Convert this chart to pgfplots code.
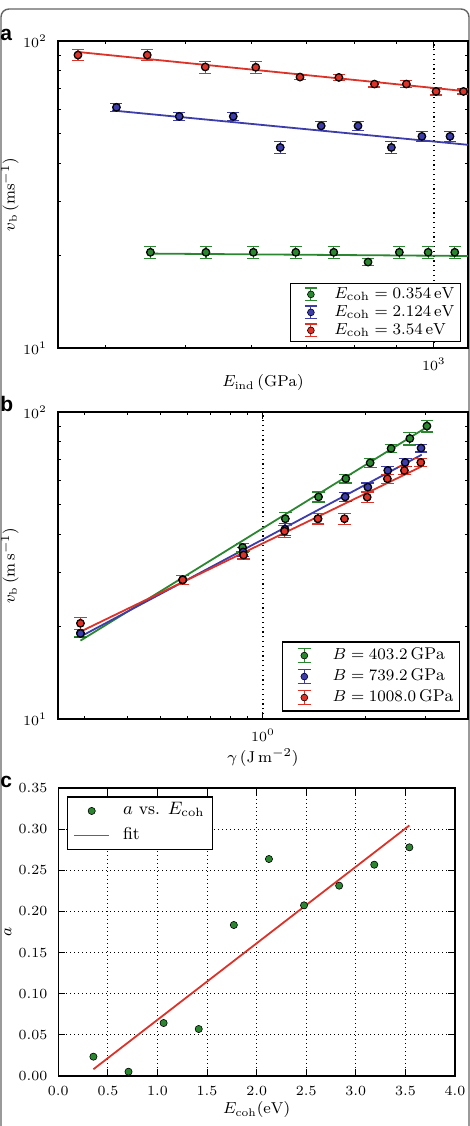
\documentclass[border=0pt]{standalone}
\usepackage{pgfplots}
\usepackage{pgfplotstable}
\pgfplotsset{compat=1.18}
\usepackage{fontspec}
\newfontfamily\panelfont{Liberation Sans}

\definecolor{cgreen}{RGB}{42,135,48}
\definecolor{cblue}{RGB}{60,60,170}
\definecolor{cred}{RGB}{220,50,40}
\definecolor{framegray}{RGB}{100,100,100}

% (a) break-up velocity against indenter modulus
\pgfplotstableread{
x y e
370 90.0 3.8
449 90.0 3.8
528 82.3 3.7
608 82.1 3.7
688 76.3 1.6
767 76.1 1.8
847 72.4 1.6
926 72.4 1.9
1006 68.5 1.8
1086 68.5 1.3
}\ared
\pgfplotstableread{
x y e
412 60.8 1.9
491 56.8 1.8
571 56.8 1.8
651 45.0 2.0
730 52.9 1.7
809 52.9 1.7
888 45.0 2.0
967 48.9 1.8
1046 48.9 1.8
}\ablue
\pgfplotstableread{
x y e
453 20.5 0.97
529 20.5 0.97
604 20.5 0.97
680 20.5 0.97
756 20.5 0.97
832 19.05 0.5
908 20.5 0.97
984 20.5 0.97
1060 20.5 0.97
}\agreen

% (b) break-up velocity against surface energy
\pgfplotstableread{
x y e
0.291 19.05 0.5
0.581 28.4 1.0
0.871 36.2 1.2
1.163 44.9 2.1
1.456 52.9 2.0
1.751 60.7 1.95
2.064 68.3 2.4
2.378 76.1 2.3
2.700 82.0 3.9
3.030 90.0 3.9
}\bgreen
\pgfplotstableread{
x y e
0.291 19.0 0.53
0.581 28.4 1.0
0.874 35.0 1.2
1.160 41.5 1.8
1.450 44.9 1.8
1.743 52.9 1.85
2.032 56.9 1.8
2.325 64.5 1.9
2.615 68.5 2.05
2.912 76.3 2.2
}\bblue
\pgfplotstableread{
x y e
0.291 20.5 0.92
0.581 28.4 1.0
0.877 34.2 1.0
1.157 40.9 1.8
1.450 44.9 1.75
1.735 44.9 1.8
2.023 52.8 2.06
2.319 60.6 2.06
2.602 64.5 1.84
2.907 68.5 1.95
}\bred

% (c) exponent a against cohesive energy
\pgfplotstableread{
x y
0.354 0.0235
0.708 0.0052
1.062 0.0644
1.416 0.0571
1.770 0.1835
2.124 0.2637
2.478 0.2074
2.832 0.2313
3.186 0.2568
3.540 0.2779
}\cdata

\pgfplotsset{
  panel/.style={
    scale only axis,
    axis line style={line width=0.6pt},
    tick style={black, line width=0.5pt},
    major tick length=3.5pt,
    minor tick length=1.6pt,
    tick align=inside,
    tick label style={font=\fontsize{7.5}{9}\selectfont},
    label style={font=\fontsize{7.9}{9}\selectfont},
    xticklabel style={yshift=-1.5pt},
    yticklabel style={xshift=-2pt},
  },
  fitline/.style={forget plot, no marks, line width=0.9pt, #1},
  % error bars only (markers are drawn afterwards, on top)
  errbars/.style n args={2}{only marks, mark=none,
    /pgfplots/error bars/y dir=both,
    /pgfplots/error bars/y explicit,
    /pgfplots/error bars/error bar style={color=#1, line width=0.6pt},
    /pgfplots/error bars/error mark options={rotate=90, color=#1, mark size=#2, line width=0.6pt},
  },
  dots/.style={forget plot, only marks, mark=*, mark size=1.7pt,
    mark options={fill=#1, draw=black, line width=0.3pt}},
  % legend image: vertical error bar with caps and a dot; the picture
  % is #6 wide so that the text starts right after it
  errleg/.style n args={6}{legend image code/.code={
    \path (0pt,0pt) (#6,0pt);
    \draw[#1, line width=0.6pt] (#2,-#4) -- (#2,#4)
       (#2-#3,-#4) -- (#2+#3,-#4) (#2-#3,#4) -- (#2+#3,#4);
    \path[mark=*, mark size=#5, mark options={fill=#1, draw=black, line width=0.3pt}]
       plot coordinates {(#2,0pt)};
  }},
  markleg/.style={legend image code/.code={\path (0pt,0pt) (23pt,0pt);
    \path[mark=*, mark size=1.8pt, mark options={fill=cgreen, draw=black, line width=0.3pt}]
      plot coordinates {(8.75pt,0pt)};}},
  lineleg/.style={legend image code/.code={\path (0pt,0pt) (23pt,0pt);
    \draw[cred, line width=0.9pt] (0pt,0pt) -- (17.5pt,0pt);}},
}

\begin{document}
\begin{tikzpicture}
\useasboundingbox (0,0) rectangle (235pt,563pt);
\draw[framegray, line width=0.7pt, rounded corners=4pt]
  (0.5pt,-20pt) -- (0.5pt,558.5pt) -- (234.5pt,558.5pt) -- (234.5pt,-20pt);

\node[anchor=base west, inner sep=0pt, font=\panelfont\bfseries\fontsize{10.5}{12}\selectfont] at (0pt,542.5pt) {a};
\node[anchor=base west, inner sep=0pt, font=\panelfont\bfseries\fontsize{10.5}{12}\selectfont] at (0pt,357pt) {b};
\node[anchor=base west, inner sep=0pt, font=\panelfont\bfseries\fontsize{10.5}{12}\selectfont] at (0pt,169pt) {c};

% ---------------- panel a ----------------
\begin{axis}[panel,
  at={(29pt,389pt)}, anchor=south west,
  width=205pt, height=153.5pt,
  xmode=log, ymode=log,
  xmin=350, xmax=1100, ymin=10, ymax=100,
  xtick={1000}, minor xtick={400,500,600,700,800,900},
  ytick={10,100}, minor ytick={20,30,40,50,60,70,80,90},
  xlabel={$E_\mathrm{ind}\,(\mathrm{GPa})$},
  ylabel={$v_\mathrm{b}\,(\mathrm{ms}^{-1})$},
  xlabel style={at={(axis description cs:0.5,-0.114)}, anchor=center},
  ylabel style={at={(axis description cs:-0.117,0.5)}, anchor=center},
  legend cell align=left,
  legend style={at={(axis description cs:0.983,0.0195)}, anchor=south east,
    draw=black, line width=0.6pt, fill=white,
    font=\fontsize{8}{9}\selectfont,
    inner xsep=2pt, inner ysep=1pt, row sep=0pt, column sep=0pt,
    nodes={inner sep=1pt, text height=5.3pt, text depth=1.7pt}},
]
\addplot[forget plot, black, line width=0.6pt, dash pattern=on 0.6pt off 1.8pt]
  coordinates {(1000,10) (1000,100)};
\addplot[fitline=cgreen] coordinates {(453,20.3) (1100,19.94)};
\addplot[fitline=cblue] coordinates {(407,59.4) (1100,45.9)};
\addplot[fitline=cred] coordinates {(370,92.1) (1100,68.5)};
\addplot[errbars={cgreen}{3pt}, errleg={cgreen}{7.7pt}{3pt}{3.2pt}{1.7pt}{18.2pt}]
  table[x=x, y=y, y error=e] {\agreen};
\addlegendentry{$E_\mathrm{coh}=0.354\,\mathrm{eV}$}
\addplot[dots=cgreen] table[x=x, y=y] {\agreen};
\addplot[errbars={cblue}{3pt}, errleg={cblue}{7.7pt}{3pt}{3.2pt}{1.7pt}{18.2pt}]
  table[x=x, y=y, y error=e] {\ablue};
\addlegendentry{$E_\mathrm{coh}=2.124\,\mathrm{eV}$}
\addplot[dots=cblue] table[x=x, y=y] {\ablue};
\addplot[errbars={cred}{3pt}, errleg={cred}{7.7pt}{3pt}{3.2pt}{1.7pt}{18.2pt}]
  table[x=x, y=y, y error=e] {\ared};
\addlegendentry{$E_\mathrm{coh}=3.54\,\mathrm{eV}$}
\addplot[dots=cred] table[x=x, y=y] {\ared};
\end{axis}

% ---------------- panel b ----------------
\begin{axis}[panel,
  at={(29pt,203.5pt)}, anchor=south west,
  width=205pt, height=153.5pt,
  xmode=log, ymode=log,
  xmin=0.25, xmax=4.0, ymin=10, ymax=100,
  xtick={1}, minor xtick={0.3,0.4,0.5,0.6,0.7,0.8,0.9,2,3},
  ytick={10,100}, minor ytick={20,30,40,50,60,70,80,90},
  xlabel={$\gamma\,(\mathrm{J\,m}^{-2})$},
  ylabel={$v_\mathrm{b}\,(\mathrm{m\,s}^{-1})$},
  xlabel style={at={(axis description cs:0.5,-0.127)}, anchor=center},
  ylabel style={at={(axis description cs:-0.117,0.5)}, anchor=center},
  legend cell align=left,
  legend style={at={(axis description cs:0.9805,0.0238)}, anchor=south east,
    draw=black, line width=0.6pt, fill=white,
    font=\fontsize{8.5}{10}\selectfont,
    inner xsep=2pt, inner ysep=1.5pt, row sep=0pt, column sep=0pt,
    nodes={inner sep=1pt, text height=6pt, text depth=2.5pt}},
]
\addplot[forget plot, black, line width=0.6pt, dash pattern=on 0.6pt off 1.8pt]
  coordinates {(1,10) (1,100)};
\addplot[fitline=cgreen] coordinates {(0.291,18.0) (3.03,89.3)};
\addplot[fitline=cblue] coordinates {(0.291,18.55) (2.926,72.6)};
\addplot[fitline=cred] coordinates {(0.291,19.26) (2.926,66.5)};
\addplot[errbars={cgreen}{3.2pt}, errleg={cgreen}{8.6pt}{3.3pt}{3.6pt}{1.7pt}{21.5pt}]
  table[x=x, y=y, y error=e] {\bgreen};
\addlegendentry{$B=403.2\,\mathrm{GPa}$}
\addplot[dots=cgreen] table[x=x, y=y] {\bgreen};
\addplot[errbars={cblue}{3.2pt}, errleg={cblue}{8.6pt}{3.3pt}{3.6pt}{1.7pt}{21.5pt}]
  table[x=x, y=y, y error=e] {\bblue};
\addlegendentry{$B=739.2\,\mathrm{GPa}$}
\addplot[dots=cblue] table[x=x, y=y] {\bblue};
\addplot[errbars={cred}{3.2pt}, errleg={cred}{8.6pt}{3.3pt}{3.6pt}{1.7pt}{21.5pt}]
  table[x=x, y=y, y error=e] {\bred};
\addlegendentry{$B=1008.0\,\mathrm{GPa}$}
\addplot[dots=cred] table[x=x, y=y] {\bred};
\end{axis}

% ---------------- panel c ----------------
\begin{axis}[panel,
  at={(29.15pt,25pt)}, anchor=south west,
  width=198.35pt, height=144pt,
  xmin=0, xmax=4, ymin=0, ymax=0.35,
  xtick={0,0.5,...,4}, ytick={0,0.05,...,0.35},
  xticklabel={\pgfmathprintnumber[fixed, fixed zerofill, precision=1]{\tick}},
  yticklabel={\pgfmathprintnumber[fixed, fixed zerofill, precision=2]{\tick}},
  grid=major,
  major grid style={black, line width=0.5pt, dash pattern=on 0.6pt off 1.4pt},
  xlabel={$E_\mathrm{coh}(\mathrm{eV})$},
  ylabel={$a$},
  xlabel style={at={(axis description cs:0.5,-0.118)}, anchor=center},
  ylabel style={at={(axis description cs:-0.127,0.5)}, anchor=center},
  legend cell align=left,
  legend style={at={(axis description cs:0.0212,0.971)}, anchor=north west,
    draw=black, line width=0.6pt, fill=white,
    font=\fontsize{8.6}{10}\selectfont,
    inner xsep=3pt, inner ysep=0.85pt, row sep=0pt, column sep=0pt,
    nodes={inner sep=1pt, text height=7pt, text depth=3.3pt}},
]
\addplot[only marks, mark=*, mark size=1.8pt,
  mark options={fill=cgreen, draw=black, line width=0.3pt}, markleg]
  table[x=x, y=y] {\cdata};
\addlegendentry{$a$ vs. $E_\mathrm{coh}$}
\addplot[no marks, cred, line width=0.9pt, lineleg]
  coordinates {(0.354,0.0082) (3.54,0.3045)};
\addlegendentry{fit}
\end{axis}
\end{tikzpicture}
\end{document}
